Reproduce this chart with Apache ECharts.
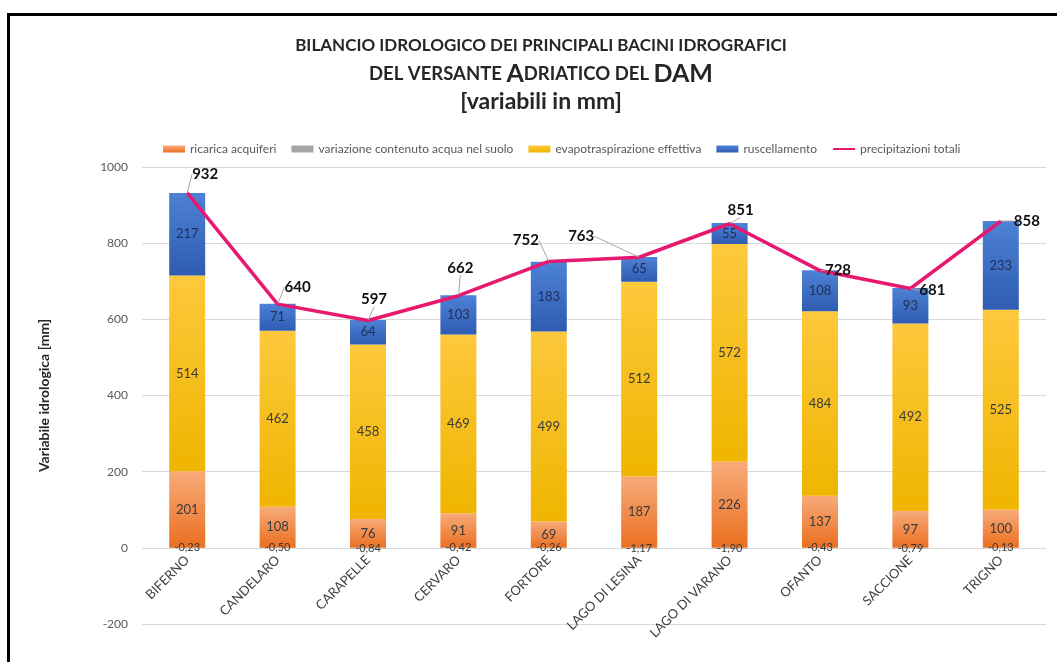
<!DOCTYPE html>
<html>
<head>
<meta charset="utf-8">
<script src="https://cdn.jsdelivr.net/npm/echarts@6/dist/echarts.min.js"></script>
<style>
  html, body { margin: 0; padding: 0; background: #fff; overflow: hidden; }
  #frame { position: absolute; left: 7px; top: 13px; width: 1200px; height: 800px; border: 3px solid #000; }
  #main { position: absolute; left: 0; top: 0; width: 1057px; height: 662px; }
</style>
</head>
<body>
<div id="frame"></div>
<div id="main"></div>
<script>
// categorie (bacini)
var bacini = ['BIFERNO', 'CANDELARO', 'CARAPELLE', 'CERVARO', 'FORTORE', 'LAGO DI LESINA', 'LAGO DI VARANO', 'OFANTO', 'SACCIONE', 'TRIGNO'];
// serie in mm
var ricarica = [201, 108, 76, 91, 69, 187, 226, 137, 97, 100];
var variazione = [-0.23, -0.50, -0.84, -0.42, -0.26, -1.17, -1.90, -0.43, -0.79, -0.13];
var evapotraspirazione = [514, 462, 458, 469, 499, 512, 572, 484, 492, 525];
var ruscellamento = [217, 71, 64, 103, 183, 65, 55, 108, 93, 233];
var precipitazioni = [932, 640, 597, 662, 752, 763, 851, 728, 681, 858];

// spostamento etichette della linea (px)
var labelShift = [[18, -19], [20, -17], [6, -21], [2, -28], [-23, -21], [-58, -21], [11, -14], [18, 0], [22, 2], [26, 0]];

function grad(top, bottom) {
    return { type: 'linear', x: 0, y: 0, x2: 0, y2: 1, colorStops: [{ offset: 0, color: top }, { offset: 1, color: bottom }] };
}

var myChart = echarts.init(document.getElementById('main'));
var font = 'Lato, "Open Sans", sans-serif';

var innerLabel = { show: true, position: 'inside', color: '#3a3a3a', fontSize: 13, fontFamily: font };

// griglia: top 167, bottom 38 -> asse y da -200 a 1000
var gridTop = 167, gridBottom = 38;
var plotH = 662 - gridTop - gridBottom;
var zeroShift = plotH * 200 / 1200;

var option = {
    animation: false,
    textStyle: { fontFamily: font },
    title: {
        left: 536,
        top: 27,
        textAlign: 'center',
        text: '{a|BILANCIO IDROLOGICO DEI PRINCIPALI BACINI IDROGRAFICI}\n{d|DEL VERSANTE }{b|A}{d|DRIATICO DEL }{b|DAM}\n{c|[variabili in mm]}',
        textStyle: {
            rich: {
                a: { fontSize: 17, fontWeight: 'bold', color: '#262626', lineHeight: 28, fontFamily: font },
                d: { fontSize: 18.5, fontWeight: 'bold', color: '#262626', lineHeight: 28, fontFamily: font },
                b: { fontSize: 25, fontWeight: 'bold', color: '#262626', lineHeight: 28, fontFamily: font },
                c: { fontSize: 23, fontWeight: 'bold', color: '#262626', lineHeight: 28, fontFamily: font }
            }
        }
    },
    legend: {
        top: 138,
        left: 158,
        itemWidth: 22,
        itemHeight: 7,
        itemGap: 15,
        textStyle: { fontSize: 12, color: '#595959', fontFamily: font },
        data: [
            { name: 'ricarica acquiferi', icon: 'rect' },
            { name: 'variazione contenuto acqua nel suolo', icon: 'rect' },
            { name: 'evapotraspirazione effettiva', icon: 'rect' },
            { name: 'ruscellamento', icon: 'rect' },
            { name: 'precipitazioni totali', itemStyle: { opacity: 0 } }
        ]
    },
    grid: { left: 142, right: 11, top: gridTop, bottom: gridBottom, outerBoundsMode: 'none' },
    xAxis: {
        type: 'category',
        data: bacini,
        offset: -zeroShift,
        axisLine: { onZero: false, lineStyle: { color: '#d9d9d9' } },
        axisTick: { show: false },
        axisLabel: { rotate: 45, color: '#404040', fontSize: 13, margin: 10, interval: 0 }
    },
    yAxis: {
        type: 'value',
        min: -200,
        max: 1000,
        interval: 200,
        name: 'Variabile idrologica [mm]',
        nameLocation: 'middle',
        nameGap: 91,
        nameTextStyle: { fontSize: 14, fontWeight: 'bold', color: '#262626' },
        axisLabel: { color: '#595959', fontSize: 12, margin: 14, formatter: function (v) { return String(v); } },
        splitLine: { lineStyle: { color: '#d9d9d9' } }
    },
    series: [
        {
            name: 'ricarica acquiferi', type: 'bar', stack: 'tot', barWidth: 36,
            itemStyle: { color: grad('#f7ab7a', '#eb6f1f') },
            label: innerLabel,
            data: ricarica
        },
        {
            name: 'variazione contenuto acqua nel suolo', type: 'bar', stack: 'tot', barWidth: 36,
            itemStyle: { color: '#a5a5a5' },
            label: {
                show: true, position: 'inside', color: '#3a3a3a', fontSize: 11, fontFamily: font,
                formatter: function (p) { return p.value.toFixed(2).replace('.', ','); }
            },
            data: variazione
        },
        {
            name: 'evapotraspirazione effettiva', type: 'bar', stack: 'tot', barWidth: 36,
            itemStyle: { color: grad('#fdc83c', '#efb500') },
            label: innerLabel,
            data: evapotraspirazione
        },
        {
            name: 'ruscellamento', type: 'bar', stack: 'tot', barWidth: 36,
            itemStyle: { color: grad('#4d82d6', '#2e5cb2') },
            label: { show: true, position: 'inside', color: '#1f2f55', fontSize: 13, fontFamily: font },
            data: ruscellamento
        },
        {
            name: 'precipitazioni totali', type: 'line', z: 5,
            symbol: 'circle', symbolSize: 1,
            lineStyle: { color: '#e6196e', width: 3.5 },
            itemStyle: { color: '#e6196e' },
            label: { show: true, position: 'inside', color: '#111', fontSize: 15, fontWeight: 'bold', fontFamily: font },
            labelLine: { show: true, lineStyle: { color: '#a6a6a6', width: 1 } },
            labelLayout: function (p) {
                var s = labelShift[p.dataIndex];
                return { dx: s[0], dy: s[1] };
            },
            data: precipitazioni
        }
    ]
};

myChart.setOption(option);
</script>
</body>
</html>
